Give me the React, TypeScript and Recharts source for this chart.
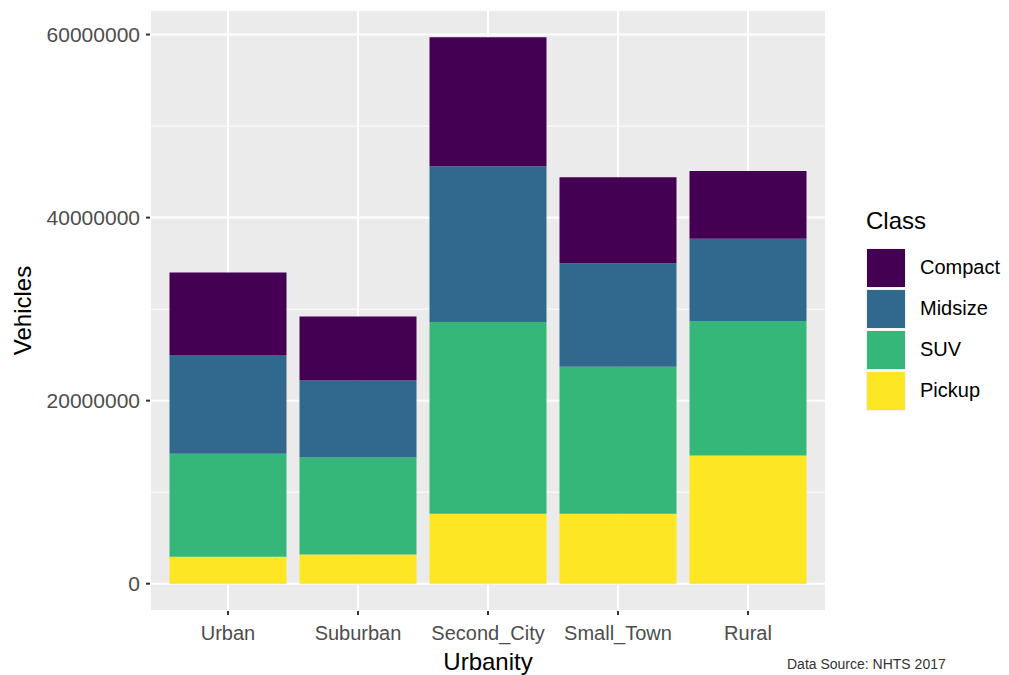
import { BarChart, Bar, XAxis, YAxis, CartesianGrid } from 'recharts';

// Vehicles by urbanity and class (stacked)
const urbanity = ['Urban', 'Suburban', 'Second_City', 'Small_Town', 'Rural'];
const pickup = [2950000, 3200000, 7650000, 7650000, 14000000];
const suv = [11250000, 10600000, 20950000, 16050000, 14700000];
const midsize = [10800000, 8400000, 17000000, 11300000, 9000000];
const compact = [9000000, 7000000, 14100000, 9400000, 7400000];

const yTicks = [0, 20000000, 40000000, 60000000];
const yMinor = [10000000, 30000000, 50000000];

const classes = [
  { key: 'Compact', color: '#440154' },
  { key: 'Midsize', color: '#31688E' },
  { key: 'SUV', color: '#35B779' },
  { key: 'Pickup', color: '#FDE725' },
];

const data = urbanity.map((u, i) => ({
  name: u,
  Pickup: pickup[i],
  SUV: suv[i],
  Midsize: midsize[i],
  Compact: compact[i],
}));

const FONT = 'Arial, "Liberation Sans", sans-serif';

function ClassLegend() {
  return (
    <div style={{ position: 'absolute', left: 866, top: 205, fontFamily: FONT }}>
      <div style={{ fontSize: 24, lineHeight: '32px', color: '#000', marginBottom: 10 }}>Class</div>
      {classes.map((c) => (
        <div key={c.key} style={{ display: 'flex', alignItems: 'center', height: 41 }}>
          <div style={{ width: 40, height: 40, background: c.color, border: '1px solid #f2f2f2', boxSizing: 'border-box' }} />
          <span style={{ marginLeft: 14, fontSize: 20, color: '#000' }}>{c.key}</span>
        </div>
      ))}
    </div>
  );
}

export default function App() {
  return (
    <div style={{ position: 'absolute', left: 0, top: 0, width: 1009, height: 675, background: '#fff', overflow: 'hidden' }}>
      <BarChart
        width={1009}
        height={675}
        data={data}
        margin={{ top: 10, right: 183, bottom: 0, left: 70 }}
        barCategoryGap="5%"
      >
        <CartesianGrid
          fill="#EBEBEB"
          stroke="#FFFFFF"
          strokeWidth={1}
          vertical={false}
          horizontalValues={yMinor}
        />
        <CartesianGrid fill="none" stroke="#FFFFFF" strokeWidth={2} />
        <XAxis
          dataKey="name"
          height={64}
          padding={{ left: 13, right: 13 }}
          axisLine={false}
          tickSize={4}
          tickLine={{ stroke: '#333333', strokeWidth: 2 }}
          tickMargin={11}
          tick={{ fill: '#4D4D4D', fontSize: 20, fontFamily: FONT }}
          interval={0}
          label={{ value: 'Urbanity', position: 'insideBottom', offset: 5, fill: '#000', fontSize: 24, fontFamily: FONT }}
        />
        <YAxis
          width={80}
          domain={[-2985000, 62685000]}
          allowDataOverflow
          ticks={yTicks}
          axisLine={false}
          tickSize={4}
          tickLine={{ stroke: '#333333', strokeWidth: 2 }}
          tickMargin={6}
          tick={{ fill: '#4D4D4D', fontSize: 21, fontFamily: FONT }}
          label={{ value: 'Vehicles', angle: -90, position: 'insideLeft', offset: -48, fill: '#000', fontSize: 24, fontFamily: FONT, style: { textAnchor: 'middle' } }}
        />
        <Bar dataKey="Pickup" stackId="a" fill="#FDE725" isAnimationActive={false} />
        <Bar dataKey="SUV" stackId="a" fill="#35B779" isAnimationActive={false} />
        <Bar dataKey="Midsize" stackId="a" fill="#31688E" isAnimationActive={false} />
        <Bar dataKey="Compact" stackId="a" fill="#440154" isAnimationActive={false} />
      </BarChart>
      <ClassLegend />
      <div
        style={{ position: 'absolute', left: 787, top: 656, fontFamily: FONT, fontSize: 14, lineHeight: '16px', color: '#333', whiteSpace: 'nowrap' }}
      >
        Data Source: NHTS 2017
      </div>
    </div>
  );
}
